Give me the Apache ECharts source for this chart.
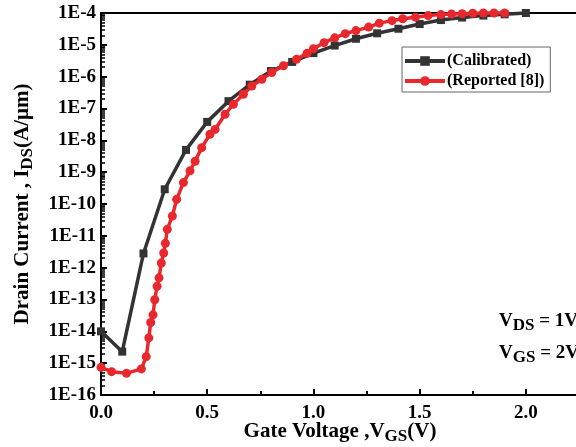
<!DOCTYPE html>
<html><head><meta charset="utf-8">
<script src="https://cdn.jsdelivr.net/npm/echarts@6/dist/echarts.min.js"></script>
<style>html,body{margin:0;padding:0;background:#fff}#c{width:576px;height:447px}</style>
</head><body><div id="c"></div>
<script>
// Calibrated (black squares)
const calibratedX = [0.0,0.1,0.2,0.3,0.4,0.5,0.6,0.7,0.8,0.9,1.0,1.1,1.2,1.3,1.4,1.5,1.6,1.7,1.8,1.9,2.0];
const calibratedY = [1.0e-14,2.3e-15,2.8e-12,2.9e-10,5.0e-9,3.8e-8,1.7e-7,5.6e-7,1.5e-6,2.9e-6,5.5e-6,9.5e-6,1.55e-5,2.3e-5,3.2e-5,4.5e-5,6.0e-5,7.2e-5,8.3e-5,9.1e-5,1.0e-4];
// Reported [8] (red circles)
const reportedX = [0.0,0.05,0.12,0.19,0.213,0.225,0.234,0.245,0.253,0.264,0.273,0.284,0.295,0.303,0.312,0.336,0.356,0.388,0.419,0.443,0.474,0.513,0.537,0.584,0.623,0.67,0.71,0.757,0.804,0.859,0.92,0.97,1.0,1.05,1.1,1.15,1.2,1.26,1.31,1.37,1.42,1.48,1.54,1.6,1.65,1.7,1.75,1.8,1.85,1.9];
const reportedY = [7.4e-16,5.4e-16,4.8e-16,6.6e-16,1.6e-15,6.2e-15,1.9e-14,3.3e-14,9.8e-14,2.6e-13,4.8e-13,1.4e-12,2.9e-12,5.8e-12,1.6e-11,4.2e-11,1.4e-10,4.7e-10,1.1e-9,2.2e-9,5.9e-9,1.55e-8,2.2e-8,6.6e-8,1.35e-7,2.8e-7,5.1e-7,8.3e-7,1.35e-6,2.2e-6,3.5e-6,5.4e-6,7.6e-6,1.17e-5,1.66e-5,2.24e-5,2.8e-5,3.6e-5,4.8e-5,5.75e-5,6.6e-5,7.4e-5,8.3e-5,8.9e-5,9.3e-5,9.5e-5,9.8e-5,1.0e-4,1.0e-4,1.0e-4];
const seriesNames = ['(Calibrated)','(Reported [8])'];
const xTickLabels = ['0.0','0.5','1.0','1.5','2.0'];

const FONT = 'Liberation Serif';
const chart = echarts.init(document.getElementById('c'), null, {renderer:'canvas'});
const pairs = (xs, ys) => xs.map((x,i)=>[x, ys[i]]);

chart.setOption({
  animation:false,
  backgroundColor:'#fff',
  grid:{left:101, top:13, width:478, height:382, containLabel:false, outerBoundsMode:'none'},
  legend:{
    left:402, top:47, orient:'vertical',
    data:seriesNames,
    borderColor:'#666', borderWidth:1,
    padding:[6,6,3,1], itemGap:4, itemWidth:40, itemHeight:12,
    lineStyle:{width:4},
    textStyle:{fontFamily:FONT, fontWeight:'bold', fontSize:16, color:'#000', padding:[0,0,0,-3]}
  },
  xAxis:[{
    type:'value', min:0, max:2.25, interval:0.5,
    axisLine:{show:true, onZero:false, lineStyle:{color:'#000', width:2}},
    axisTick:{show:true, inside:false, length:-6, lineStyle:{color:'#000', width:2}},
    minorTick:{show:true, splitNumber:2, length:-4, lineStyle:{color:'#000', width:2}},
    splitLine:{show:false},
    axisLabel:{fontFamily:FONT, fontWeight:'bold', fontSize:19, color:'#000', margin:9,
      formatter:v=>{const i=Math.round(v/0.5); return Math.abs(v-i*0.5)<1e-9 && i<xTickLabels.length ? xTickLabels[i] : '';}},
    name:'{m|Gate Voltage ,V}{s|GS}{m|(V)}', nameLocation:'middle', nameGap:23, nameMoveOverlap:false,
    nameTextStyle:{rich:{
      m:{fontFamily:FONT, fontWeight:'bold', fontSize:21, color:'#000'},
      s:{fontFamily:FONT, fontWeight:'bold', fontSize:17, color:'#000', padding:[10,0,0,0]}
    }}
  },{
    type:'value', position:'top', min:0, max:2.25, show:true,
    axisLine:{show:true, lineStyle:{color:'#000', width:2}},
    axisTick:{show:false}, axisLabel:{show:false}, splitLine:{show:false}
  }],
  yAxis:{
    type:'log', logBase:10, min:1e-16, max:1e-4, interval:1,
    axisLine:{show:true, lineStyle:{color:'#000', width:2}},
    axisTick:{show:true, inside:false, length:-6, lineStyle:{color:'#000', width:2}},
    minorTick:{show:true, splitNumber:9, length:-4, lineStyle:{color:'#000', width:1.5}},
    splitLine:{show:false},
    axisLabel:{fontFamily:FONT, fontWeight:'bold', fontSize:19, color:'#000', margin:5, interval:0,
      formatter:v=>'1E' + Math.round(Math.log10(v))},
    name:'{m|Drain Current , I}{s|DS}{m|(A/μm)}', nameLocation:'middle', nameRotate:90, nameGap:65, nameMoveOverlap:false,
    nameTextStyle:{rich:{
      m:{fontFamily:FONT, fontWeight:'bold', fontSize:21, color:'#000'},
      s:{fontFamily:FONT, fontWeight:'bold', fontSize:17, color:'#000', padding:[10,0,0,0]}
    }}
  },
  graphic:[
    {type:'text', left:499, top:312, style:{text:'{m|V}{s|DS}{m| = 1V}', rich:{
      m:{fontFamily:FONT, fontWeight:'bold', fontSize:19, fill:'#000'},
      s:{fontFamily:FONT, fontWeight:'bold', fontSize:17, fill:'#000', padding:[9,0,0,0]}}}},
    {type:'text', left:499, top:344, style:{text:'{m|V}{s|GS}{m| = 2V}', rich:{
      m:{fontFamily:FONT, fontWeight:'bold', fontSize:19, fill:'#000'},
      s:{fontFamily:FONT, fontWeight:'bold', fontSize:17, fill:'#000', padding:[9,0,0,0]}}}}
  ],
  series:[
    {name:seriesNames[0], type:'line', data:pairs(calibratedX, calibratedY), clip:false,
     symbol:'rect', symbolSize:8, lineStyle:{color:'#333333', width:3.5},
     itemStyle:{color:'#333333'}},
    {name:seriesNames[1], type:'line', data:pairs(reportedX, reportedY), clip:false,
     symbol:'circle', symbolSize:9, lineStyle:{color:'#e8282d', width:3.5},
     itemStyle:{color:'#e8282d'}}
  ]
});
</script></body></html>
